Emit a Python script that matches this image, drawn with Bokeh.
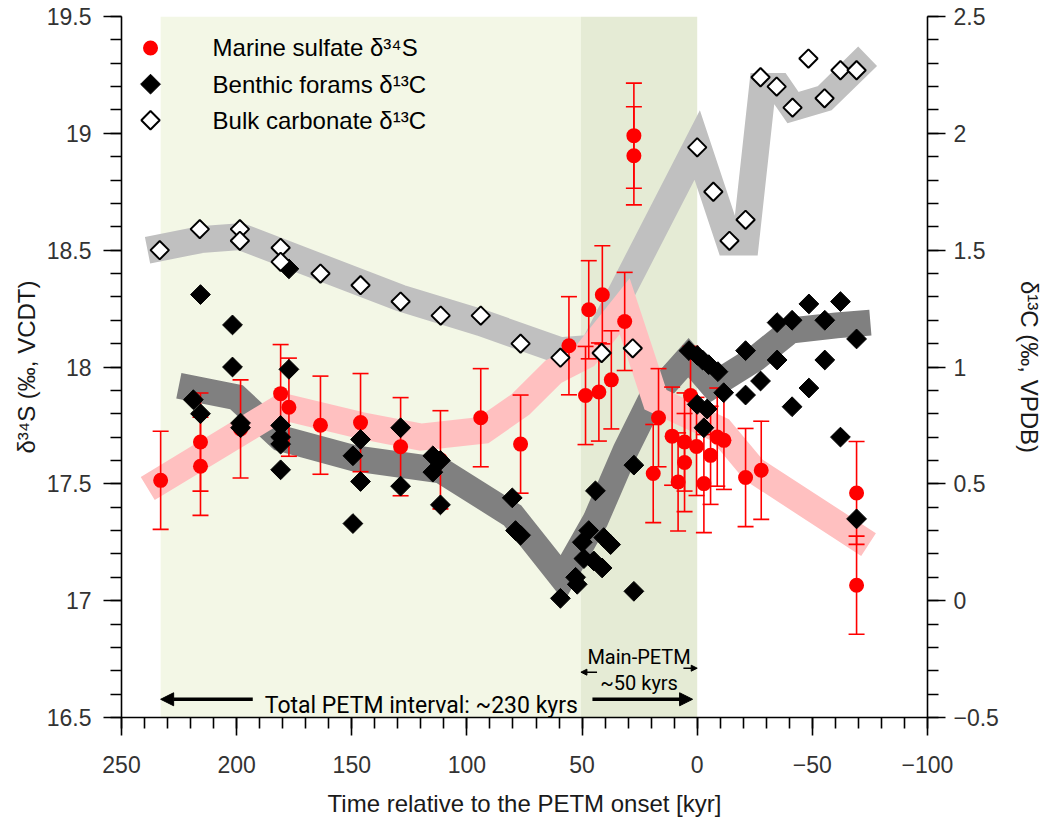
import numpy as np
from bokeh.plotting import figure
from bokeh.models import (Range1d, LinearAxis, FixedTicker, BoxAnnotation, Arrow,
                          NormalHead, ColumnDataSource, Label)
from bokeh.core.properties import value
from bokeh.embed import file_html
from bokeh.resources import INLINE

# ---------------- data ----------------
# Marine sulfate d34S (left axis, permil VCDT) with 1-sigma error
sulfate_t = [233.0, 215.7, 215.7, 198.3, 180.9, 177.3, 163.6, 146.2, 128.8, 111.5,
             94.0, 76.7, 55.7, 48.5, 47.1, 42.7, 41.2, 37.3, 31.5, 27.5, 27.5,
             19.1, 16.8, 10.9, 8.3, 5.5, 5.5, 2.9, 0.3, -2.9, -5.8, -8.7, -11.6,
             -21.0, -27.8, -69.2, -69.2]
sulfate_d34s = [17.515, 17.679, 17.575, 17.735, 17.886, 17.828, 17.751, 17.762, 17.659, 17.603,
                17.783, 17.670, 18.091, 17.878, 18.245, 17.893, 18.309, 17.945, 18.195, 18.990, 18.904,
                17.544, 17.783, 17.704, 17.508, 17.679, 17.591, 17.878, 17.660, 17.501, 17.622, 17.700, 17.686,
                17.527, 17.558, 17.461, 17.066]
sulfate_err = [0.21, 0.21, 0.21, 0.21, 0.21, 0.21, 0.21, 0.21, 0.21, 0.21,
               0.21, 0.21, 0.21, 0.21, 0.21, 0.21, 0.21, 0.21, 0.21, 0.225, 0.21,
               0.21, 0.21, 0.21, 0.21, 0.21, 0.21, 0.21, 0.21, 0.21, 0.21, 0.21, 0.21,
               0.21, 0.21, 0.22, 0.21]

# Benthic foraminifera d13C (right axis, permil VPDB)
benthic_t = [218.8, 215.7, 215.7, 201.8, 201.8, 198.3, 198.3, 180.9, 180.9, 180.9, 180.9,
             177.3, 177.3, 146.2, 149.5, 146.2, 149.5, 128.8, 128.8, 114.8, 111.5, 114.8, 111.5,
             80.3, 78.9, 76.7, 59.4, 52.1, 52.8, 49.2, 49.9, 47.1, 44.9, 41.3, 40.6, 37.6,
             44.2, 27.5, 27.5, 3.6, 0.0, -2.3, -5.0, -9.0, -11.5, 0.0, -4.3, -2.9,
             -21.0, -21.0, -27.5, -34.7, -34.7, -41.2, -41.2, -48.5, -48.5, -55.4, -55.4,
             -62.2, -62.2, -69.2, -69.2]
benthic_d13c = [0.86, 0.80, 1.31, 1.18, 1.00, 0.76, 0.74, 0.75, 0.70, 0.67, 0.56,
                1.42, 0.99, 0.69, 0.62, 0.51, 0.33, 0.74, 0.49, 0.62, 0.60, 0.55, 0.41,
                0.44, 0.30, 0.28, 0.01, 0.07, 0.10, 0.18, 0.25, 0.30, 0.17, 0.14, 0.27, 0.24,
                0.47, 0.58, 0.04, 1.07, 1.05, 1.03, 1.01, 0.98, 0.89, 0.84, 0.82, 0.74,
                1.07, 0.88, 0.94, 1.19, 1.03, 1.20, 0.83, 1.27, 0.91, 1.20, 1.03,
                1.28, 0.70, 1.12, 0.35]

# Bulk carbonate d13C (right axis, permil VPDB)
bulk_t = [233.4, 216.0, 198.6, 198.6, 180.9, 180.9, 163.6, 146.2, 128.8, 111.4, 94.0,
          76.7, 59.4, 41.5, 28.0, 0.0, -7.0, -14.0, -21.0, -27.5, -34.5, -41.4, -48.3,
          -55.3, -62.2, -69.2]
bulk_d13c = [1.50, 1.59, 1.59, 1.54, 1.51, 1.45, 1.40, 1.35, 1.28, 1.22, 1.22,
             1.10, 1.04, 1.06, 1.08, 1.94, 1.75, 1.54, 1.63, 2.24, 2.20, 2.11, 2.32,
             2.15, 2.27, 2.27]

# Smoothed trends (broad bands)
sulfate_trend_t = [238.6, 180.0, 146.2, 120.1, 92.8, 76.7, 62.4, 48.5, 31.5, 18.1, -10.1, -24.5, -74.4]
sulfate_trend = [17.48, 17.83, 17.75, 17.70, 17.73, 17.84, 17.98, 18.05, 18.26, 17.86, 17.73, 17.56, 17.24]

benthic_trend_t = [225.1, 200.0, 180.9, 149.2, 111.4, 80.2, 58.5, 44.2, 31.1, 20.3, 3.8, -6.6,
                   -25.3, -40.5, -60.5, -75.2]
benthic_trend = [0.92, 0.87, 0.695, 0.61, 0.558, 0.365, 0.096, 0.344, 0.643, 0.857, 1.04, 0.921,
                 1.036, 1.156, 1.178, 1.19]

bulk_trend_t = [238.7, 215.7, 198.3, 128.8, 94.0, 59.4, 45.4, 0.0, -14.0, -21.0, -28.4, -35.3,
                -41.6, -55.3, -74.0]
bulk_trend = [1.50, 1.545, 1.558, 1.295, 1.19, 1.07, 1.08, 1.95, 1.535, 1.535, 2.20, 2.20,
              2.11, 2.15, 2.33]

# PETM intervals (kyr relative to onset)
petm_total_start = 233.0
petm_main_start = 50.5
petm_onset = 0.0

# axes
x_ticks = [250, 200, 150, 100, 50, 0, -50, -100]
x_tick_labels = ["250", "200", "150", "100", "50", "0", "\u221250", "\u2212100"]
y_ticks = [16.5, 17, 17.5, 18, 18.5, 19, 19.5]
y_tick_labels = ["16.5", "17", "17.5", "18", "18.5", "19", "19.5"]
y2_ticks = [-0.5, 0, 0.5, 1, 1.5, 2, 2.5]
y2_tick_labels = ["\u22120.5", "0", "0.5", "1", "1.5", "2", "2.5"]

legend_labels = ["Marine sulfate \u03b4\u00b3\u2074S", "Benthic forams \u03b4\u00b9\u00b3C",
                 "Bulk carbonate \u03b4\u00b9\u00b3C"]

# ---------------- figure ----------------
p = figure(frame_width=806, frame_height=701,
           x_range=Range1d(250, -100), y_range=Range1d(16.5, 19.5),
           output_backend="svg", toolbar_location=None,
           min_border_left=121, min_border_top=16, min_border_right=60, min_border_bottom=60)
p.extra_y_ranges = {"c13": Range1d(-0.5, 2.5), "legy": Range1d(0, 1)}
p.extra_x_ranges = {"legx": Range1d(0, 1)}
p.outline_line_color = None
p.xgrid.visible = False
p.ygrid.visible = False
p.background_fill_color = "white"
p.border_fill_color = "white"

right_axis = LinearAxis(y_range_name="c13")
p.add_layout(right_axis, "right")


def key(t):
    return int(t) if float(t).is_integer() else t


def style_axis(ax, ticks, labels, minor):
    ax.ticker = FixedTicker(ticks=ticks, minor_ticks=minor)
    ax.major_label_overrides = {key(t): l for t, l in zip(ticks, labels)}
    ax.major_tick_out = 18
    ax.major_tick_in = 0
    ax.minor_tick_out = 11
    ax.minor_tick_in = 0
    ax.axis_line_width = 1.6
    ax.major_tick_line_width = 1.6
    ax.minor_tick_line_width = 1.6
    ax.axis_line_color = "black"
    ax.major_tick_line_color = "black"
    ax.minor_tick_line_color = "black"
    ax.major_label_text_font = "Liberation Sans"
    ax.major_label_text_font_size = "23px"
    ax.major_label_text_color = "#333333"
    ax.axis_label_text_font = "Liberation Sans"
    ax.axis_label_text_font_size = "24px"
    ax.axis_label_text_font_style = "normal"
    ax.axis_label_text_color = "#1a1a1a"


x_minor = list(range(-100, 251, 10))
y_minor = [round(16.5 + 0.1 * i, 1) for i in range(31)]
y2_minor = [round(-0.5 + 0.1 * i, 1) for i in range(31)]

style_axis(p.xaxis[0], x_ticks, x_tick_labels, x_minor)
style_axis(p.yaxis[0], y_ticks, y_tick_labels, y_minor)
style_axis(right_axis, y2_ticks, y2_tick_labels, y2_minor)

p.xaxis[0].axis_label = "Time relative to the PETM onset [kyr]"
p.yaxis[0].axis_label = "\u03b4\u00b3\u2074S (\u2030, VCDT)"
right_axis.axis_label = "\u03b4\u00b9\u00b3C (\u2030, VPDB)"
p.xaxis[0].major_label_standoff = 20
p.xaxis[0].axis_label_standoff = 14
p.yaxis[0].major_label_standoff = 12
p.yaxis[0].axis_label_standoff = 4
right_axis.major_label_standoff = 8
right_axis.axis_label_standoff = 14

# PETM shading
p.add_layout(BoxAnnotation(left=petm_main_start, right=petm_total_start, fill_color="#f3f7e6",
                           fill_alpha=1.0, line_color=None, level="underlay"))
p.add_layout(BoxAnnotation(left=petm_onset, right=petm_main_start, fill_color="#e5ebd5",
                           fill_alpha=1.0, line_color=None, level="underlay"))

# trend bands
p.line(bulk_trend_t, bulk_trend, y_range_name="c13", line_width=27, line_color="#c0c0c0",
       line_join="miter", line_cap="butt")
p.line(benthic_trend_t, benthic_trend, y_range_name="c13", line_width=26, line_color="#808080",
       line_join="miter", line_cap="butt")
p.line(sulfate_trend_t, sulfate_trend, line_width=27, line_color="#ffc0c0",
       line_join="miter", line_cap="butt")

# sulfate error bars and points
src = ColumnDataSource(dict(t=sulfate_t, v=sulfate_d34s,
                            lo=[v - e for v, e in zip(sulfate_d34s, sulfate_err)],
                            hi=[v + e for v, e in zip(sulfate_d34s, sulfate_err)]))
p.segment(x0="t", y0="lo", x1="t", y1="hi", source=src, line_color="#ff0000", line_width=1.6)
p.scatter(x="t", y="lo", source=src, marker="dash", size=16, line_color="#ff0000", line_width=1.6)
p.scatter(x="t", y="hi", source=src, marker="dash", size=16, line_color="#ff0000", line_width=1.6)
p.scatter(x="t", y="v", source=src, marker="circle", size=15, fill_color="#ff0000", line_color=None)

# benthic and bulk d13C
p.scatter(benthic_t, benthic_d13c, y_range_name="c13", marker="square", angle=np.pi / 4,
          size=14, fill_color="black", line_color="black", line_width=1)
p.scatter(bulk_t, bulk_d13c, y_range_name="c13", marker="square", angle=np.pi / 4,
          size=13, fill_color="white", line_color="black", line_width=2)

# legend (positions in axis-fraction units)
leg_icon_x = 0.036
leg_text_x = 0.113
leg_y = [0.955, 0.9035, 0.852]
p.scatter([leg_icon_x], [leg_y[0]], x_range_name="legx", y_range_name="legy", marker="circle",
          size=15, fill_color="#ff0000", line_color=None)
p.scatter([leg_icon_x], [leg_y[1]], x_range_name="legx", y_range_name="legy", marker="square",
          angle=np.pi / 4, size=14, fill_color="black", line_color="black", line_width=1)
p.scatter([leg_icon_x], [leg_y[2]], x_range_name="legx", y_range_name="legy", marker="square",
          angle=np.pi / 4, size=13, fill_color="white", line_color="black", line_width=2)
p.text(x=[leg_text_x] * 3, y=[leg_y[0] + 0.001, leg_y[1], leg_y[2] - 0.001], text=legend_labels,
       x_range_name="legx", y_range_name="legy",
       text_font=value("Liberation Sans"), text_font_size=value("24px"),
       text_color="black", text_baseline="middle", text_align="left")

# PETM interval annotations
arrow_y = 16.578
p.add_layout(Arrow(end=NormalHead(size=13, fill_color="black", line_color="black", line_width=1),
                   x_start=petm_total_start - 40, y_start=arrow_y, x_end=petm_total_start, y_end=arrow_y,
                   line_width=3.5, line_color="black"))
p.add_layout(Arrow(end=NormalHead(size=13, fill_color="black", line_color="black", line_width=1),
                   x_start=petm_main_start - 5, y_start=arrow_y, x_end=petm_onset + 2, y_end=arrow_y,
                   line_width=3.5, line_color="black"))
p.add_layout(Label(x=(petm_total_start + petm_onset) / 2 + 3.3, y=16.553,
                   text="Total PETM interval: ~230 kyrs", text_align="center",
                   text_baseline="alphabetic", text_font="Roboto", text_font_size="23px",
                   text_color="black"))
p.add_layout(Label(x=(petm_main_start + petm_onset) / 2, y=16.760, text="Main-PETM",
                   text_align="center", text_baseline="alphabetic", text_font="Roboto",
                   text_font_size="20px", text_color="black"))
p.add_layout(Label(x=(petm_main_start + petm_onset) / 2, y=16.647, text="~50 kyrs",
                   text_align="center", text_baseline="alphabetic", text_font="Roboto",
                   text_font_size="20px", text_color="black"))
p.add_layout(Arrow(end=NormalHead(size=6, fill_color="black", line_color="black", line_width=1),
                   x_start=petm_main_start - 7, y_start=16.694, x_end=petm_main_start, y_end=16.694,
                   line_width=1.5, line_color="black"))
p.add_layout(Arrow(end=NormalHead(size=6, fill_color="black", line_color="black", line_width=1),
                   x_start=petm_onset + 6, y_start=16.711, x_end=petm_onset, y_end=16.711,
                   line_width=1.5, line_color="black"))

open("out.html", "w").write(file_html(p, INLINE))
